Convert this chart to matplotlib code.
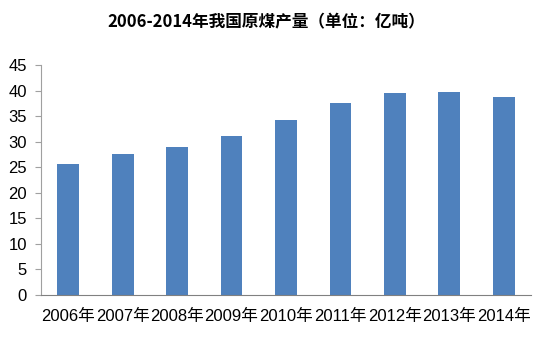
import numpy as np
import matplotlib.pyplot as plt

years = ['2006年', '2007年', '2008年', '2009年', '2010年', '2011年', '2012年', '2013年', '2014年']
output = [25.6, 27.6, 29.0, 31.1, 34.2, 37.6, 39.5, 39.7, 38.7]
yticks = [0, 5, 10, 15, 20, 25, 30, 35, 40, 45]

fonts = ['Liberation Sans', 'Noto Sans CJK SC', 'DejaVu Sans']
plt.rcParams['font.family'] = fonts

fig = plt.figure(figsize=(5.33, 3.45), dpi=100)
ax = fig.add_axes([41 / 533, 1 - 295 / 345, 490 / 533, 230 / 345])

x = np.arange(len(years))
ax.bar(x, output, width=0.4, color='#4F81BD')

ax.set_xlim(-0.5, len(years) - 0.5)
ax.set_ylim(0, 45)
ax.set_yticks(yticks)
ax.set_xticks(x)
ax.set_xticklabels(years)

for s in ['top', 'right']:
    ax.spines[s].set_visible(False)
ax.spines['left'].set_color('#A0A0A0')
ax.spines['bottom'].set_color('#808080')
ax.tick_params(axis='y', length=4, color='#A0A0A0', labelsize=12, pad=6)
ax.tick_params(axis='x', length=0, labelsize=12, pad=10)

fig.text(0.5, 1 - 22 / 345, '2006-2014年我国原煤产量（单位：亿吨）', ha='center', va='center',
         fontsize=12, fontweight='bold', family=['Noto Sans CJK SC', 'DejaVu Sans'])

fig.savefig('out.png', dpi=100)
